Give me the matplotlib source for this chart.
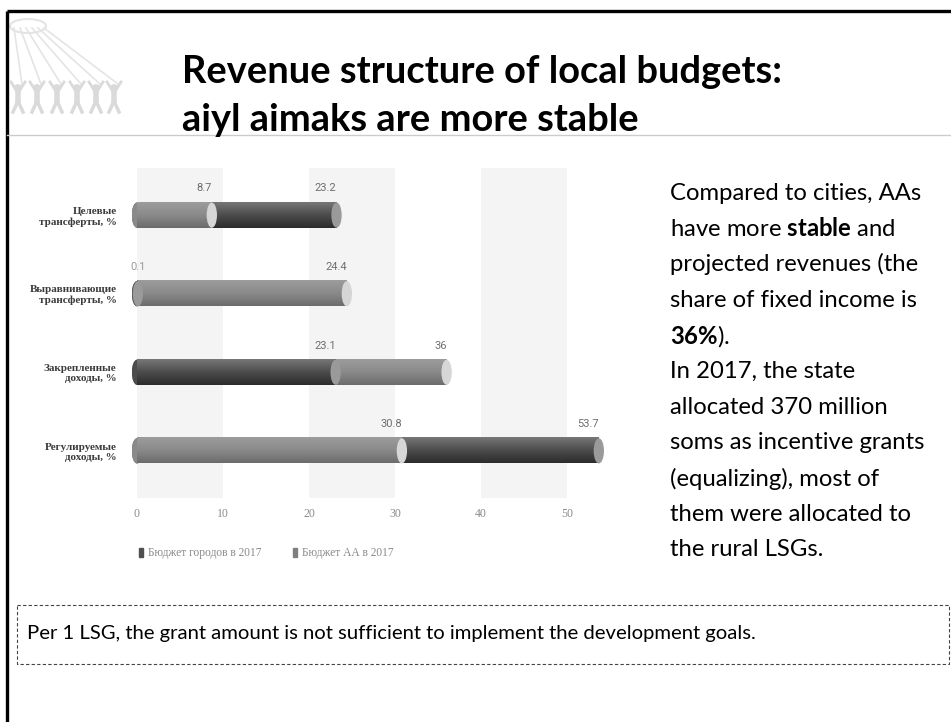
import numpy as np
import matplotlib.pyplot as plt
from matplotlib.patches import Ellipse, Rectangle, Circle
from matplotlib.colors import LinearSegmentedColormap

# revenue shares, %
categories = ['Целевые\nтрансферты, %', 'Выравнивающие\nтрансферты, %',
              'Закрепленные\nдоходы, %', 'Регулируемые\nдоходы, %']
city_budget = [23.2, 0.1, 23.1, 53.7]
aa_budget = [8.7, 24.4, 36, 30.8]
series_names = ['Бюджет городов в 2017', 'Бюджет АА в 2017']
x_ticks = [0, 10, 20, 30, 40, 50]

title_lines = ['Revenue structure of local budgets:', 'aiyl aimaks are more stable']
side_lines = [
    'Compared to cities, AAs',
    r'have more $\mathbf{stable}$ and',
    'projected revenues (the',
    'share of fixed income is',
    r'$\mathbf{36\%}$).',
    'In 2017, the state',
    'allocated 370 million',
    'soms as incentive grants',
    '(equalizing), most of',
    'them were allocated to',
    'the rural LSGs.',
]
note = 'Per 1 LSG, the grant amount is not sufficient to implement the development goals.'

plt.rcParams['mathtext.fontset'] = 'custom'
plt.rcParams['mathtext.rm'] = 'Lato'
plt.rcParams['mathtext.bf'] = 'Lato:bold:normal'

W, H = 951, 722
fig = plt.figure(figsize=(W / 100, H / 100), dpi=100)

# slide background in pixel coordinates
bg = fig.add_axes([0, 0, 1, 1])
bg.set_xlim(0, W)
bg.set_ylim(H, 0)
bg.axis('off')

bg.plot([7, W], [11, 11], color='black', lw=2.4, solid_capstyle='butt')
bg.plot([7, 7], [11, H], color='black', lw=2.4, solid_capstyle='butt')
bg.plot([7, W], [135, 135], color='#cccccc', lw=1)

# logo: people holding the ropes of a yurt top
logo_c = '#dadada'
bg.add_patch(Ellipse((28, 26), 36, 14, color='#e4e4e4', fill=False, lw=1.5))
fig_x = [18, 37, 57, 77, 96, 114]
for i, fx in enumerate(fig_x):
    bg.plot([14 + i * 6, fx + 4], [28, 84], color='#e4e4e4', lw=1.2)
    bg.add_patch(Circle((fx, 88), 3.2, color=logo_c))
    bg.plot([fx, fx], [90, 102], color=logo_c, lw=4)
    bg.plot([fx - 7, fx, fx + 7], [82, 93, 82], color=logo_c, lw=2)
    bg.plot([fx - 5, fx, fx + 5], [112, 101, 112], color=logo_c, lw=2.5)

for i, line in enumerate(title_lines):
    bg.text(182, 72 + i * 48, line, fontsize=27.4, fontweight='bold',
            family='Lato', color='black', va='center', ha='left')

for i, line in enumerate(side_lines):
    bg.text(670, 193 + i * 35.7, line, fontsize=17.2, family='Lato',
            color='black', va='center', ha='left')

bg.add_patch(Rectangle((17, 605), 932, 59, fill=False, ls=(0, (3, 2)),
                       lw=0.8, edgecolor='#444444'))
bg.text(27, 633, note, fontsize=14.6, family='Lato', color='black',
        va='center', ha='left')

# legend under the chart
legend_x = [139, 293]
legend_c = ['#4f4f4f', '#7f7f7f']
for lx, c, name in zip(legend_x, legend_c, series_names):
    bg.add_patch(Rectangle((lx, 548), 3.5, 9, color=c))
    bg.text(lx + 9, 553, name, fontsize=8.3, family='Liberation Serif',
            color='#8a8a8a', va='center', ha='left')

# chart
px = 8.6
x0 = 137 - 0.6 * px
x1 = 137 + 55 * px
ax = fig.add_axes([x0 / W, 1 - 498 / H, (x1 - x0) / W, 330 / H])

for a, b in [(0, 10), (20, 30), (40, 50)]:
    ax.axvspan(a, b, color='#f4f4f4', lw=0, zorder=0)

styles = {
    'city': (['#777777', '#4c4c4c', '#2c2c2c'], '#9a9a9a'),
    'aa': (['#9c9c9c', '#8a8a8a', '#6c6c6c'], '#d6d6d6'),
}
bar_h = 0.32
cap_w = 1.2


def cylinder(y, value, kind, z):
    colors, cap = styles[kind]
    cmap = LinearSegmentedColormap.from_list(kind, colors)
    ax.add_patch(Ellipse((0, y), cap_w, bar_h, color=colors[1], zorder=z, lw=0))
    grad = np.linspace(0, 1, 64).reshape(-1, 1)
    ax.imshow(grad, extent=(0, value, y + bar_h / 2, y - bar_h / 2),
              aspect='auto', cmap=cmap, zorder=z, interpolation='bilinear')
    ax.add_patch(Ellipse((value, y), cap_w, bar_h, color=cap, zorder=z, lw=0))


for i in range(len(categories)):
    bars = sorted([(city_budget[i], 'city'), (aa_budget[i], 'aa')], reverse=True)
    for z, (v, kind) in enumerate(bars):
        cylinder(i, v, kind, 2 + z)
        ax.text(v if v > 2 else 0.1, i - 0.34, f'{v:g}',
                ha='right' if v > 2 else 'center', va='center',
                fontsize=8, family='Roboto',
                color='#6e6e6e' if v > 2 else '#9a9a9a')

ax.set_xlim(-0.6, 55)
ax.set_ylim(3.6, -0.6)
ax.set_xticks(x_ticks)
ax.set_xticklabels([str(t) for t in x_ticks], family='Liberation Serif',
                   fontsize=8.5, color='#8a8a8a')
ax.set_yticks(range(len(categories)))
ax.set_yticklabels(categories, family='Liberation Serif', fontsize=8,
                   fontweight='bold', color='#3a3a3a', linespacing=1.15)
ax.tick_params(length=0)
ax.tick_params(axis='x', pad=7)
ax.tick_params(axis='y', pad=11)
for s in ax.spines.values():
    s.set_visible(False)

fig.savefig('out.png', dpi=100)
